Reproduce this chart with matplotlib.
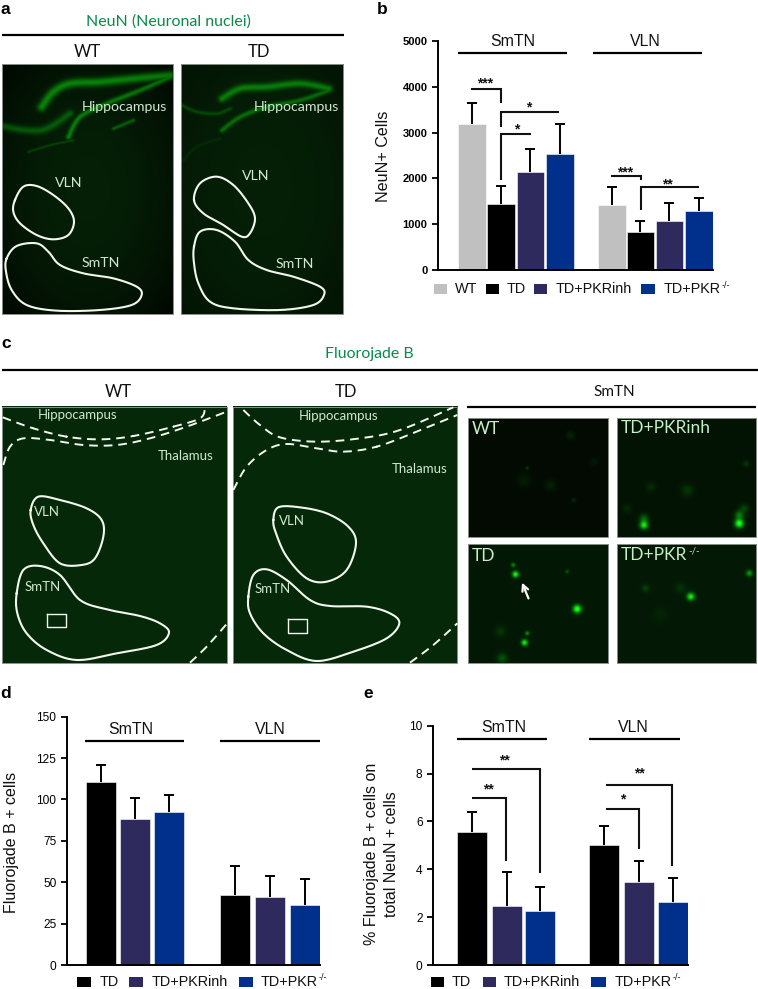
import numpy as np
import matplotlib
matplotlib.use("Agg")
import matplotlib.pyplot as plt

W, H = 758, 989
SANS = "Liberation Sans"
PHOTO = "Lato"

WT_C, TD_C, INH_C, KO_C = "#c0c0c0", "#000000", "#2e2a5e", "#00308c"
LABEL_C = "#cfe8cf"
TITLE_C = "#0b8a4b"

# panel b
b_smtn = [3180, 1440, 2130, 2540]
b_smtn_top = [3650, 1830, 2650, 3180]
b_vln = [1430, 840, 1070, 1280]
b_vln_top = [1810, 1080, 1470, 1580]
b_ticks = [0, 1000, 2000, 3000, 4000, 5000]

# panel d
d_smtn = [110.5, 88, 92.5]
d_smtn_top = [121, 101, 103]
d_vln = [42.5, 41, 36]
d_vln_top = [60, 54, 52]
d_ticks = [0, 25, 50, 75, 100, 125, 150]

# panel e
e_smtn = [5.57, 2.45, 2.25]
e_smtn_top = [6.38, 3.9, 3.25]
e_vln = [5.0, 3.47, 2.62]
e_vln_top = [5.8, 4.35, 3.63]
e_ticks = [0, 2, 4, 6, 8, 10]

# outlines traced on the micrographs, in 3x zoom pixels
a1_vln = [(45,600),(70,560),(110,558),(160,585),(205,625),(222,665),(205,705),(160,718),(110,705),(60,670),(40,635)]
a1_smtn = [(20,775),(50,738),(110,730),(145,755),(180,795),(250,820),(340,835),(410,860),(425,885),(395,915),(300,930),(170,932),(80,915),(35,870),(18,815)]
a2_vln = [(582,600),(600,550),(650,530),(700,555),(745,610),(765,655),(750,700),(725,710),(670,675),(610,640)]
a2_smtn = [(582,740),(600,695),(650,690),(705,725),(745,780),(800,810),(880,830),(960,860),(972,885),(940,915),(840,930),(700,925),(630,905),(595,850),(582,790)]
c1_vln = [(92,540),(115,500),(180,510),(260,535),(305,570),(310,620),(285,685),(245,705),(180,700),(130,640),(100,585)]
c1_smtn = [(50,790),(70,720),(120,708),(180,735),(240,810),(320,838),(420,858),(480,880),(507,908),(470,945),(350,970),(230,990),(140,960),(80,910),(52,850)]
c2_vln = [(820,570),(835,532),(900,532),(980,550),(1045,590),(1068,640),(1040,720),(980,755),(920,745),(860,680),(828,610)]
c2_smtn = [(745,800),(760,735),(800,718),(860,750),(930,810),(990,828),(1100,830),(1170,850),(1198,880),(1160,925),(1060,965),(950,993),(860,960),(790,910),(750,850)]

c1_dash = [
    [(8,262),(100,295),(200,320),(300,328),(400,318),(520,290),(600,265),(615,235)],
    [(10,405),(30,350),(70,325),(150,330),(250,345),(350,345),(450,325),(560,290),(680,245)],
    [(570,998),(620,950),(680,882)],
]
c2_dash = [
    [(730,240),(780,285),(840,322),(950,335),(1080,325),(1200,300),(1360,232)],
    [(700,480),(740,410),(800,360),(860,342),(950,355),(1030,365),(1130,350),(1250,305),(1372,255)],
    [(1230,998),(1300,945),(1372,880)],
]

# bright bands of the hippocampus: points (zoom px), width (px), strength
a1_bands = [
    ([(125,320),(160,275),(210,250),(300,245),(400,235),(510,225)], 3.0, 0.42),
    ([(205,410),(240,350),(320,310),(420,270),(510,230)], 1.8, 0.38),
    ([(10,378),(80,390),(140,385),(210,340)], 2.6, 0.25),
    ([(85,455),(150,435),(220,420)], 0.8, 0.16),
    ([(340,385),(400,360)], 1.2, 0.28),
]
a2_bands = [
    ([(665,295),(720,265),(800,260),(900,250),(985,265)], 2.6, 0.38),
    ([(665,390),(720,350),(800,320),(900,300),(985,270)], 1.7, 0.32),
    ([(545,315),(590,335),(650,340),(690,325)], 1.3, 0.18),
    ([(550,480),(590,440),(660,415)], 1.0, 0.06),
]
c1_bands = [([(290,300),(310,265),(380,240)], 2.5, 0.07)]
c2_bands = [([(1010,310),(1030,285),(1090,270)], 2.2, 0.05), ([(1210,300),(1280,280)], 1.2, 0.14)]

# labelled cells in the SmTN close-ups: x, y (zoom px), sigma (px), strength
wt_cells = [(270,330,4,0.09),(190,315,5,0.07),(330,180,3,0.1),(200,278,1.2,0.2),(340,375,1.5,0.12),(400,260,3,0.06)]
inh_cells = [(550,450,2.8,0.85),(550,430,3,0.3),(835,445,3,1.0),(835,420,3,0.4),(680,345,4,0.14),(570,335,3,0.1),(855,265,2,0.14),(850,400,3,0.2),(500,400,3,0.08)]
td_cells = [(165,598,2.2,0.9),(158,570,1.5,0.45),(350,702,2.8,1.0),(192,803,2.2,0.85),(200,775,1.5,0.45),(320,590,1.3,0.25),(125,850,3.5,0.22),(120,770,3.5,0.12)]
ko_cells = [(690,665,2.6,0.85),(865,595,2.2,0.5),(555,640,2.5,0.16),(660,640,3.5,0.1),(600,720,5,0.04)]


def smooth_closed(points, n=16):
    p = np.array(points, float) / 3
    out = []
    for i in range(len(p)):
        p0, p1, p2, p3 = p[i - 1], p[i], p[(i + 1) % len(p)], p[(i + 2) % len(p)]
        for t in np.linspace(0, 1, n, endpoint=False):
            out.append(0.5 * (2 * p1 + (p2 - p0) * t + (2 * p0 - 5 * p1 + 4 * p2 - p3) * t ** 2
                              + (3 * p1 - p0 - 3 * p2 + p3) * t ** 3))
    out.append(out[0])
    return np.array(out)


def smooth_open(points, n=16):
    p = np.array(points, float) / 3
    p = np.vstack([p[0], p, p[-1]])
    out = []
    for i in range(1, len(p) - 2):
        p0, p1, p2, p3 = p[i - 1], p[i], p[i + 1], p[i + 2]
        for t in np.linspace(0, 1, n):
            out.append(0.5 * (2 * p1 + (p2 - p0) * t + (2 * p0 - 5 * p1 + 4 * p2 - p3) * t ** 2
                              + (3 * p1 - p0 - 3 * p2 + p3) * t ** 3))
    return np.array(out)


def photo(box, base, bands=(), cells=(), offset=(0, 0), vignette=0.0):
    # box is x0, y0, x1, y1 in figure pixels, image is only green glow on a flat base
    x0, y0, x1, y1 = box
    xx, yy = np.meshgrid(np.arange(x0, x1, 0.5), np.arange(y0, y1, 0.5))
    glow = np.zeros(xx.shape)
    for pts, width, amp in bands:
        for px, py in smooth_open(pts, 60):
            d2 = (xx - px) ** 2 + (yy - py) ** 2
            glow = np.maximum(glow, amp * np.exp(-d2 / (2 * width ** 2)))
    for cx, cy, sig, amp in cells:
        px, py = offset[0] + cx / 3, offset[1] + cy / 3
        glow += amp * np.exp(-((xx - px) ** 2 + (yy - py) ** 2) / (2 * sig ** 2))
    shade = np.ones(xx.shape)
    if vignette:
        u = (xx - x0) / (x1 - x0) - 0.5
        v = (yy - y0) / (y1 - y0) - 0.5
        shade = 1 - vignette * np.clip((u ** 2 + v ** 2) * 2, 0, 1)
    img = np.zeros(xx.shape + (3,))
    img[..., 0] = base[0] * shade + 0.12 * glow ** 2
    img[..., 1] = base[1] * shade + glow
    img[..., 2] = base[2] * shade + 0.12 * glow ** 2
    img = np.clip(img, 0, 1)
    ov.imshow(img, extent=(x0, x1, y1, y0), aspect="auto", interpolation="bilinear", zorder=1)
    ov.plot([x0, x1, x1, x0, x0], [y0, y0, y1, y1, y0], color="#8a8f8a", lw=0.7, zorder=2)


def outline(points, lw=1.5):
    xy = smooth_closed(points)
    ov.plot(xy[:, 0], xy[:, 1], color="#f2f7ee", lw=lw, zorder=3)


def txt(x, y, s, size=11.4, color="#111111", family=SANS, ha="center", weight="normal", rot=0):
    ov.text(x, y, s, fontsize=size, color=color, family=family, ha=ha, va="center",
            fontweight=weight, rotation=rot, zorder=5)


def hline(x0, x1, y, lw=1.6):
    ov.plot([x0, x1], [y, y], color="black", lw=lw, solid_capstyle="butt", zorder=5)


def bracket(xs, ys):
    ov.plot(xs, ys, color="#111111", lw=1.5, solid_joinstyle="miter", solid_capstyle="butt", zorder=5)


def bar_panel(box, ymax, ticks, values, tops, colors, lefts, width, tick_size, tick_weight="normal"):
    x0, y0, x1, y1 = box
    ax = fig.add_axes([x0 / W, 1 - y1 / H, (x1 - x0) / W, (y1 - y0) / H], zorder=3)
    ax.patch.set_alpha(0)
    ax.set_xlim(x0, x1)
    ax.set_ylim(0, ymax)
    centers = [l + width / 2 for l in lefts]
    ax.bar(centers, values, width=width, color=colors, edgecolor="white", linewidth=0.4)
    up = [t - v for t, v in zip(tops, values)]
    eb = ax.errorbar(centers, values, yerr=[[0] * len(up), up], fmt="none", ecolor="black",
                     elinewidth=1.4, capsize=3.5, capthick=1.4)
    eb[1][0].set_visible(False)  # only the upper cap shows
    for s in ("top", "right"):
        ax.spines[s].set_visible(False)
    for s in ("left", "bottom"):
        ax.spines[s].set_linewidth(1.4)
    ax.set_xticks([])
    ax.set_yticks(ticks)
    ax.tick_params(axis="y", length=4.5, width=1.3, pad=3)
    for lab in ax.get_yticklabels():
        lab.set_fontsize(tick_size)
        lab.set_fontfamily(SANS)
        lab.set_fontweight(tick_weight)
    return ax


def legend_item(x0, x1, y, color, label, tx, size=10.4, sup=None):
    ov.fill_between([x0, x1], y - 5, y + 5, color=color, lw=0, zorder=5)
    t = ov.text(tx, y, label, fontsize=size, family=SANS, color="#111111", ha="left", va="center", zorder=5)
    if sup:
        fig.canvas.draw()
        ext = t.get_window_extent()
        ov.text(ov.transData.inverted().transform((ext.x1, 0))[0] + 1, y - 4, sup, fontsize=6.5,
                family=SANS, color="#111111", ha="left", va="center", zorder=5)


fig = plt.figure(figsize=(W / 100, H / 100), dpi=100)
ov = fig.add_axes([0, 0, 1, 1], zorder=1)
ov.set_xlim(0, W)
ov.set_ylim(H, 0)
ov.axis("off")

# panel a micrographs
base_a = (0.02, 0.125, 0.025)
photo((2.3, 64, 172.7, 314), base_a, a1_bands, vignette=0.8)
photo((181, 64, 343.3, 314), base_a, a2_bands, vignette=0.4)
for pts in (a1_vln, a1_smtn, a2_vln, a2_smtn):
    outline(pts)
hline(2, 344, 34.7)
txt(168, 21.7, "NeuN (Neuronal nuclei)", 11.5, TITLE_C, PHOTO)
txt(87.7, 52, "WT", 12, family=PHOTO)
txt(259, 52, "TD", 12, family=PHOTO)
for x, y, s in [(124, 107, "Hippocampus"), (296.7, 106.7, "Hippocampus"), (68.3, 182.7, "VLN"),
                (255.7, 175.7, "VLN"), (101, 262.7, "SmTN"), (295, 264, "SmTN")]:
    txt(x, y, s, 10.2, LABEL_C, PHOTO)

# panel c micrographs
base_c = (0.018, 0.16, 0.035)
photo((2.3, 406.7, 227, 663.3), base_c, c1_bands)
photo((233, 406.7, 457.3, 663.3), base_c, c2_bands)
for pts in (c1_vln, c1_smtn, c2_vln, c2_smtn):
    xy = smooth_closed(pts)
    ov.plot(xy[:, 0], xy[:, 1] + 330, color="#f2f7ee", lw=1.5, zorder=3)
for pts in c1_dash + c2_dash:
    xy = smooth_open(pts)
    ov.plot(xy[:, 0], xy[:, 1] + 330, color="#f2f7ee", lw=1.4, dashes=(4.5, 3), zorder=3)
for x0, x1, y0, y1 in [(46.7, 66, 614, 627.3), (287.7, 306.7, 619.3, 633.3)]:
    ov.plot([x0, x1, x1, x0, x0], [y0, y0, y1, y1, y0], color="#f2f7ee", lw=1.0, zorder=3)
hline(2, 758, 370)
txt(369, 354, "Fluorojade B", 11.4, TITLE_C, PHOTO)
txt(118, 391.7, "WT", 12, family=PHOTO)
txt(345.7, 391.7, "TD", 12, family=PHOTO)
txt(614, 392, "SmTN", 11, family=PHOTO)
for x, y, s in [(77.3, 415, "Hippocampus"), (339, 415.7, "Hippocampus"), (186, 456, "Thalamus"),
                (419.3, 469, "Thalamus"), (47, 511.7, "VLN"), (291.7, 520.7, "VLN"),
                (42.3, 586.7, "SmTN"), (272.3, 589, "SmTN")]:
    txt(x, y, s, 9.5, LABEL_C, PHOTO)

# SmTN close-ups
hline(467, 756, 407)
offset = (460, 375)
photo((467.7, 417.7, 608.3, 536.7), (0.01, 0.04, 0.01), cells=wt_cells, offset=offset)
photo((616.7, 417.7, 756, 536.7), (0.012, 0.075, 0.015), cells=inh_cells, offset=offset)
photo((467.7, 544.3, 608.3, 663.3), (0.012, 0.095, 0.018), cells=td_cells, offset=offset)
photo((616.7, 544.3, 756, 663.3), (0.012, 0.1, 0.02), cells=ko_cells, offset=offset)
photo_lab = "#c4f0c8"
txt(472, 429, "WT", 12.5, photo_lab, PHOTO, ha="left")
txt(621, 428, "TD+PKRinh", 12.5, photo_lab, PHOTO, ha="left")
txt(472, 556, "TD", 12.5, photo_lab, PHOTO, ha="left")
txt(621, 555, "TD+PKR", 12.5, photo_lab, PHOTO, ha="left")
txt(688, 551, "-/-", 7, photo_lab, PHOTO, ha="left")
ov.annotate("", xy=(521, 580), xytext=(529.5, 601), zorder=6,
            arrowprops=dict(arrowstyle="->", color="white", lw=1.6, mutation_scale=11))

# panel b chart
bar_panel((438, 41, 713, 270), 5000, b_ticks, b_smtn + b_vln, b_smtn_top + b_vln_top,
          [WT_C, TD_C, INH_C, KO_C] * 2, [458, 487.3, 516.7, 546, 598, 626.7, 655.7, 685], 27.5, 8, "bold")
txt(383, 156, "NeuN+ Cells", 11.6, rot=90)
hline(458, 567, 52.7)
hline(592.7, 701.7, 52.7)
txt(512.7, 41.7, "SmTN")
txt(645, 41.7, "VLN")
bracket([470.7, 500.7, 500.7], [88.7, 88.7, 103])
bracket([500.7, 500.7, 559], [126.7, 112, 112])
bracket([500.7, 500.7, 531], [180, 134, 134])
bracket([610.7, 640.7, 640.7], [175.7, 175.7, 180])
bracket([640.7, 640.7, 699], [210, 187, 187])
for x, y, s in [(485.5, 81, "***"), (529, 105, "*"), (517, 127, "*"), (625, 170, "***"), (667, 182, "**")]:
    txt(x, y + 2, s, 10, weight="bold")
legend_item(434, 447.3, 289, WT_C, "WT", 455)
legend_item(486, 499.3, 289, TD_C, "TD", 506.7)
legend_item(534, 546.7, 289, INH_C, "TD+PKRinh", 555.3)
legend_item(640.7, 655, 289, KO_C, "TD+PKR", 664, sup="-/-")

# panel d chart
bar_panel((66.7, 716.7, 320, 965), 150, d_ticks, d_smtn + d_vln, d_smtn_top + d_vln_top,
          [TD_C, INH_C, KO_C] * 2, [85.7, 120, 154, 220, 255, 290], 30.3, 8.6)
txt(11.7, 842, "Fluorojade B + cells", 11.5, rot=90)
hline(85, 184, 740.7)
hline(220, 320, 740.7)
txt(131, 729, "SmTN")
txt(270.7, 729, "VLN")
legend_item(77.3, 90.7, 981.7, TD_C, "TD", 99.3)
legend_item(129.3, 142.7, 981.7, INH_C, "TD+PKRinh", 151.7)
legend_item(239.3, 253.3, 981.7, KO_C, "TD+PKR", 261, sup="-/-")

# panel e chart
bar_panel((433, 725.7, 688, 965), 10, e_ticks, e_smtn + e_vln, e_smtn_top + e_vln_top,
          [TD_C, INH_C, KO_C] * 2, [456.7, 491.7, 525, 589.3, 624.3, 657.7], 30, 8.6)
txt(371.7, 854, "% Fluorojade B + cells on", 11.5, rot=90)
txt(391.7, 854, "total NeuN + cells", 11.5, rot=90)
hline(456.7, 547.3, 738.7)
hline(589.3, 680, 738.7)
txt(504, 727.7, "SmTN")
txt(633, 727.7, "VLN")
bracket([471.7, 506, 506], [797.7, 797.7, 860.7])
bracket([471.7, 540, 540], [769, 769, 873.3])
bracket([605.7, 639, 639], [809.3, 809.3, 849.3])
bracket([605.7, 672.3, 672.3], [784.7, 784.7, 866])
for x, y, s in [(488, 787, "**"), (504.7, 758, "**"), (622.3, 797, "*"), (639, 771, "**")]:
    txt(x, y + 2, s, 10, weight="bold")
legend_item(430.7, 444, 981.7, TD_C, "TD", 451.7)
legend_item(482.7, 496, 981.7, INH_C, "TD+PKRinh", 504)
legend_item(590.7, 605.7, 981.7, KO_C, "TD+PKR", 615, sup="-/-")

# panel letters
for x, y, s in [(5, 10, "a"), (381.7, 9, "b"), (6, 343, "c"), (6, 694, "d"), (368, 694, "e")]:
    txt(x, y, s, 12.5, "black", weight="bold")

ov.set_xlim(0, W)
ov.set_ylim(H, 0)
fig.savefig("out.png", dpi=100)
